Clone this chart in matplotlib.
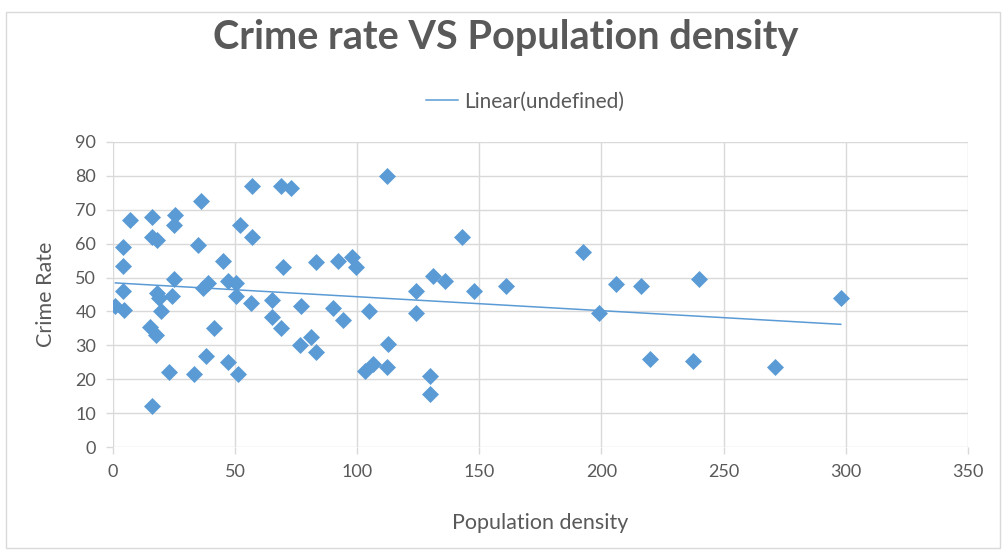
# Crime rate vs population density scatter with linear trendline
import numpy as np
import matplotlib.pyplot as plt
from matplotlib.patches import Rectangle

plt.rcParams['font.family'] = ['Lato', 'DejaVu Sans']

# population density for each area
density = [57, 69, 73, 112, 36, 7, 16, 25.5, 25, 16, 18, 52, 57, 4, 35,
           4, 45, 69.5, 83, 92, 98, 99.5, 25, 39, 47, 50.5, 37, 4, 18,
           24, 19, 50.5, 1, 4.5, 19.5, 56.5, 65, 65, 69, 15, 17.5, 41.5,
           38, 47, 51, 23, 33, 16, 77, 90, 94, 105, 76.5, 81, 83, 112.5,
           103, 106.5, 112, 130, 130, 124, 131, 124, 136, 143, 148, 161,
           192.5, 199, 206, 216, 240, 298, 220, 237.5, 271]
# crime rate for each area
crime = [77, 77, 76.5, 80, 72.5, 67, 68, 68.5, 65.5, 62, 61, 65.5, 62, 59, 59.5,
         53.5, 55, 53, 54.5, 55, 56, 53, 49.5, 48.5, 49, 48.5, 47, 46, 45.5,
         44.5, 44, 44.5, 41.5, 40.5, 40, 42.5, 43.5, 38.5, 35, 35.5, 33, 35,
         27, 25, 21.5, 22, 21.5, 12, 41.5, 41, 37.5, 40, 30, 32.5, 28, 30.5,
         22.5, 24.5, 23.5, 21, 15.5, 46, 50.5, 39.5, 49, 62, 46, 47.5,
         57.5, 39.5, 48, 47.5, 49.5, 44, 26, 25.5, 23.5]

x_ticks = [0, 50, 100, 150, 200, 250, 300, 350]
y_ticks = [0, 10, 20, 30, 40, 50, 60, 70, 80, 90]

blue = '#5b9bd5'
grey_txt = '#595959'
grid_col = '#d9d9d9'

fig = plt.figure(figsize=(10.06, 5.54), dpi=100)
fig.patches.append(Rectangle((0.006, 0.01), 0.988, 0.968, transform=fig.transFigure,
                             fill=False, edgecolor=grid_col, linewidth=1))
ax = fig.add_axes([0.1123, 0.1931, 0.8497, 0.5506])

x = np.array(density)
y = np.array(crime)
ax.scatter(x, y, marker='D', s=75, color=blue, linewidths=0, zorder=3)

# least squares trendline over the data range
slope, intercept = np.polyfit(x, y, 1)
xs = np.array([x.min(), x.max()])
ax.plot(xs, slope * xs + intercept, color=blue, linewidth=1.1, zorder=4,
        label='Linear(undefined)')

ax.set_xlim(0, 350)
ax.set_ylim(0, 90)
ax.set_xticks(x_ticks)
ax.set_yticks(y_ticks)
ax.grid(True, color=grid_col, linewidth=1)
ax.set_axisbelow(True)
for s in ax.spines.values():
    s.set_visible(False)
ax.tick_params(colors=grey_txt, labelsize=13, length=5, width=1, pad=7)
ax.tick_params(axis='both', color=grid_col)

ax.set_xlabel('Population density', fontsize=15.5, color=grey_txt, labelpad=24)
ax.set_ylabel('Crime Rate', fontsize=15.5, color=grey_txt, labelpad=14)

fig.text(0.503, 0.932, 'Crime rate VS Population density', ha='center', va='center',
         fontsize=28.5, fontweight='bold', color=grey_txt)
leg = fig.legend(loc='center', bbox_to_anchor=(0.522, 0.817), frameon=False,
                 fontsize=15, handlelength=1.5, handletextpad=0.3)
for t in leg.get_texts():
    t.set_color(grey_txt)

fig.savefig('out.png', dpi=100)
